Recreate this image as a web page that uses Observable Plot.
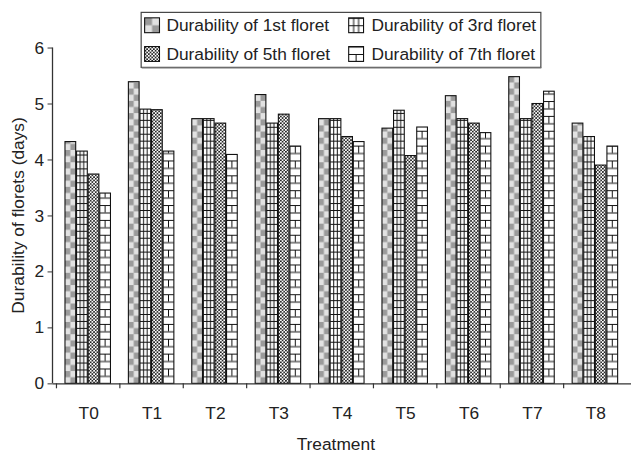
<!DOCTYPE html>
<html><head><meta charset="utf-8">
<script src="https://cdn.jsdelivr.net/npm/d3@7"></script>
<script src="https://cdn.jsdelivr.net/npm/@observablehq/plot@0.6"></script>
<style>html,body{margin:0;padding:0;overflow:hidden;background:#fff}</style>
</head><body><div id="chart"></div>
<script>
const treatments = ["T0","T1","T2","T3","T4","T5","T6","T7","T8"];
const floret1 = [4.32,5.39,4.73,5.16,4.73,4.56,5.14,5.48,4.65];
const floret3 = [4.15,4.90,4.73,4.65,4.73,4.88,4.73,4.73,4.41];
const floret5 = [3.74,4.89,4.65,4.81,4.41,4.07,4.65,5.00,3.90];
const floret7 = [3.40,4.15,4.09,4.24,4.32,4.58,4.48,5.22,4.24];
const seriesNames = ["Durability of 1st floret","Durability of 3rd floret","Durability of 5th floret","Durability of 7th floret"];
const yTicks = [0,1,2,3,4,5,6];

const seriesValues = [floret1, floret3, floret5, floret7];
const patternKinds = ["c1","c3","c5","c7"];
const rows = seriesValues.flatMap((vals,k)=>treatments.map((t,i)=>({treatment:t, series:k, value:vals[i]})));

const W = 637, H = 459, ML = 53, MR = 0, MT = 48, MB = 72;
const bw = (W-ML-MR)/treatments.length;
const padL = 8.6, barW = 11.7;

const plot = Plot.plot({
  width: W, height: H,
  marginLeft: ML, marginRight: MR, marginTop: MT, marginBottom: MB,
  style: {fontFamily: "'Liberation Sans', Arial, sans-serif", fontSize: "17.5px", color: "#222", background: "#fff"},
  x: {domain: treatments, padding: 0},
  y: {domain: [0, 6]},
  marks: [
    ...seriesValues.map((vals,k)=>Plot.barY(rows.filter(r=>r.series===k), {
      x: "treatment", y: "value", fill: "#fff", stroke: "#111", strokeWidth: 1.1,
      insetLeft: padL + k*barW, insetRight: bw - padL - (k+1)*barW
    })),
    Plot.axisX({tickSize: 0, tickPadding: 23, label: null}),
    Plot.axisY({ticks: yTicks, tickSize: 5, tickPadding: 4, label: null, tickFormat: d=>String(d), stroke: "#333"}),
    Plot.ruleY([0], {stroke: "#333", strokeWidth: 1.3})
  ]
});
document.getElementById("chart").appendChild(plot);

const svg = d3.select(plot);
const xs = plot.scale("x"), ys = plot.scale("y");
const y0 = ys.apply(0);
const defs = svg.insert("defs", ":first-child");

function makePattern(id, kind, x0, py0, w, opt = {}) {
  const p = defs.append("pattern").attr("id", id).attr("patternUnits", "userSpaceOnUse").attr("x", x0).attr("y", py0);
  if (kind === "c1") {
    const ch = opt.ch || 6.2;
    p.attr("width", w).attr("height", 2*ch);
    p.append("rect").attr("width", w).attr("height", 2*ch).attr("fill", "#e2e2e2");
    p.append("rect").attr("width", w/2).attr("height", ch).attr("fill", "#9a9a9a");
    p.append("rect").attr("x", w/2).attr("y", ch).attr("width", w/2).attr("height", ch).attr("fill", "#9a9a9a");
  } else if (kind === "c3") {
    const h = opt.h || 7;
    p.attr("width", w).attr("height", h);
    p.append("rect").attr("width", w).attr("height", h).attr("fill", "#fff");
    p.append("rect").attr("x", w/3-0.5).attr("width", 1).attr("height", h).attr("fill", "#111");
    p.append("rect").attr("x", 2*w/3-0.5).attr("width", 1).attr("height", h).attr("fill", "#111");
    p.append("rect").attr("width", w).attr("height", 1).attr("fill", "#111");
  } else if (kind === "c5") {
    const s = 3.4;
    p.attr("width", s).attr("height", s);
    p.append("rect").attr("width", s).attr("height", s).attr("fill", "#fff");
    p.append("circle").attr("cx", s/4).attr("cy", s/4).attr("r", 0.95).attr("fill", "#111");
    p.append("circle").attr("cx", 3*s/4).attr("cy", 3*s/4).attr("r", 0.95).attr("fill", "#111");
  } else if (kind === "c7") {
    const h = opt.h || 7.5;
    p.attr("width", w).attr("height", 2*h);
    p.append("rect").attr("width", w).attr("height", 2*h).attr("fill", "#fff");
    p.append("rect").attr("width", w).attr("height", 1).attr("fill", "#111");
    p.append("rect").attr("y", h).attr("width", w).attr("height", 1).attr("fill", "#111");
    p.append("rect").attr("x", w/2-0.5).attr("width", 1).attr("height", h).attr("fill", "#111");
  }
  return `url(#${id})`;
}

// fill bars with patterns aligned to each bar (bar mark groups in mark order)
svg.selectAll('g[aria-label="bar"]').each(function(_, k){
  const kind = patternKinds[k];
  d3.select(this).selectAll("rect").each(function(d,i){
    const x = +this.getAttribute("x");
    const w = +this.getAttribute("width");
    const url = makePattern(`p${k}-${i}`, kind, x, y0, w);
    this.setAttribute("fill", url);
  });
});

const deco = svg.append("g");
// y axis line
deco.append("line").attr("x1", ML).attr("x2", ML).attr("y1", ys.apply(6)).attr("y2", y0)
  .attr("stroke", "#333").attr("stroke-width", 1.3);
// group boundary ticks on x axis
treatments.forEach(t=>{
  const x = xs.apply(t);
  deco.append("line").attr("x1", x).attr("x2", x).attr("y1", y0).attr("y2", y0+5)
    .attr("stroke", "#333").attr("stroke-width", 1.2);
});
// axis titles
deco.append("text").attr("transform", `translate(18,${(ys.apply(6)+y0)/2}) rotate(-90)`)
  .attr("text-anchor", "middle").attr("dy", "0.35em").attr("fill", "#222").text("Durability of florets (days)");
deco.append("text").attr("x", 339).attr("y", 454).attr("text-anchor", "middle")
  .attr("fill", "#222").text("Treatment");

// legend
const lg = svg.append("g").attr("text-anchor", "start");
lg.append("rect").attr("x", 142.5).attr("y", 12.5).attr("width", 403.5).attr("height", 55.5)
  .attr("fill", "#fff").attr("stroke", "#444").attr("stroke-width", 1.2);
lg.append("line").attr("x1", 143).attr("x2", 546.5).attr("y1", 68.6).attr("y2", 68.6)
  .attr("stroke", "#777").attr("stroke-width", 1.2);
const legendPos = [
  {ix: 146, iy: 18, tx: 168, ty: 31.5},
  {ix: 352, iy: 18, tx: 375, ty: 31.5},
  {ix: 146, iy: 47, tx: 168, ty: 60.5},
  {ix: 352, iy: 47, tx: 375, ty: 60.5}
];
[0,1,2,3].forEach((k, j)=>{
  const pos = legendPos[j];
  const s = 15;
  const opt = patternKinds[k] === "c1" ? {ch: 7.5} : {h: 7.5};
  const py = patternKinds[k] === "c7" ? pos.iy + 7.5 : pos.iy;
  const url = makePattern(`leg${k}`, patternKinds[k], pos.ix, py, s, opt);
  lg.append("rect").attr("x", pos.ix).attr("y", pos.iy).attr("width", s).attr("height", s)
    .attr("fill", url).attr("stroke", "#111").attr("stroke-width", 1.1);
  lg.append("text").attr("x", pos.tx).attr("y", pos.ty).attr("text-anchor", "start")
    .attr("fill", "#222").text(seriesNames[k]);
});
</script>
</body></html>
